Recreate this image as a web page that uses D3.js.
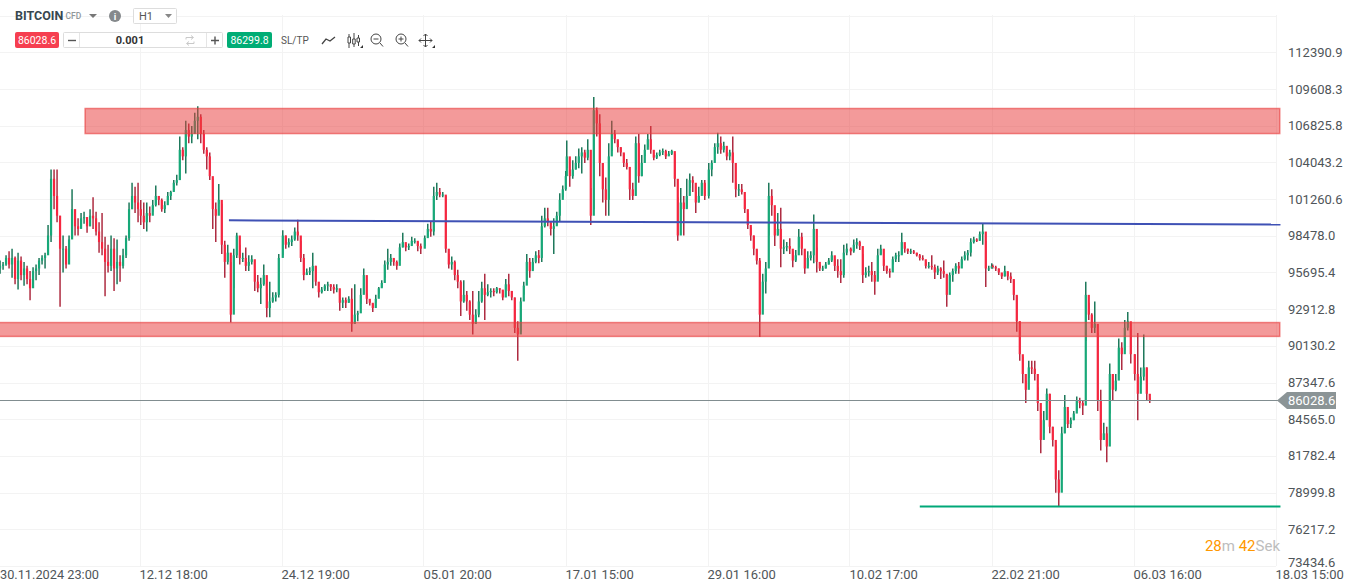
<!DOCTYPE html>
<html>
<head>
<meta charset="utf-8">
<script src="https://cdnjs.cloudflare.com/ajax/libs/d3/7.8.5/d3.min.js"></script>
<style>
html,body{margin:0;padding:0;background:#fff;overflow:hidden}
text{font-family:Roboto,sans-serif}
</style>
</head>
<body>
<svg id="chart" width="1347" height="585"></svg>
<script>
// prices in the bar arrays are in hundreds of USD: [high, low, close]
var bars_3011 = [[966,956,962],[965,959,963],[970,962,968],[973,960,963],[975,953,968],[969,948,952],[972,944,966],[969,951,955],[965,947,960],[962,948,952],[958,936,945],[961,950,958],[963,951,960],[968,955,966],[970,963,968],[972,960,970],[993,974,985],[1035,980,1028],[1035,1005,1015],[1035,995,1000],[1000,931,975],[985,957,975],[977,960,963],[985,968,982],[1020,987,1005],[1000,985,992],[998,985,990],[1002,994,998],[1003,994,999],[996,987,992],[1005,992,1000],[1014,990,998],[1003,985,988],[995,972,980],[1002,970,975],[984,939,965],[978,957,962],[985,958,975],[983,943,960],[982,948,965],[970,950,962],[975,960,970],[985,968,983],[1010,981,1005],[1025,1005,1015],[1022,1002,1010],[1025,995,1005]];
var bars_1212 = [[1012,993,1000],[1010,990,995],[1010,988,1002],[1007,995,1000],[1012,1003,1008],[1023,1007,1015],[1015,1008,1012],[1013,1003,1005],[1011,1002,1008],[1018,1012,1015],[1019,1012,1018],[1027,1019,1025],[1031,1023,1027],[1060,1027,1050],[1052,1042,1045],[1072,1032,1065],[1070,1055,1060],[1068,1055,1062],[1078,1063,1072],[1083,1058,1075],[1077,1055,1062],[1065,1047,1050],[1052,1035,1045],[1048,1027,1030],[1028,990,1005],[1010,980,1000],[1024,1009,1012],[1009,971,978],[981,953,965],[978,963,972],[965,919,925],[975,945,970],[987,968,985],[978,963,968],[972,965,968],[976,958,962],[970,958,965],[970,963,967],[957,943,950],[955,942,945],[953,933,948],[963,947,955],[941,923,930],[950,923,935],[942,934,938],[942,935,940],[971,938,968]];
var bars_2412 = [[989,970,985],[985,975,978],[983,976,980],[985,977,982],[991,981,988],[997,981,985],[981,965,968],[971,951,955],[960,955,957],[961,955,958],[972,945,962],[962,947,950],[945,938,942],[946,941,944],[948,943,947],[950,943,948],[948,943,946],[948,941,944],[948,942,945],[938,928,934],[938,930,936],[938,930,934],[939,934,937],[945,912,918],[948,918,925],[928,920,926],[945,933,940],[960,941,955],[941,933,937],[936,932,934],[933,927,930],[940,934,937],[946,941,945],[951,946,949],[966,953,963],[975,959,965],[971,962,968],[967,962,965],[966,959,962],[979,966,976],[987,976,980],[978,973,976],[979,974,977],[984,978,981],[983,979,981],[980,973,977],[979,971,975]];
var bars_0501 = [[985,977,983],[994,984,990],[996,984,988],[1022,985,1015],[1025,1012,1018],[1021,1014,1016],[1018,1014,1016],[1015,972,975],[971,960,963],[969,959,965],[966,951,955],[959,945,950],[951,924,935],[951,934,940],[943,928,935],[936,921,925],[943,910,918],[929,918,925],[943,923,935],[950,934,945],[956,921,940],[948,939,942],[945,938,943],[945,939,942],[946,941,945],[945,941,944],[943,936,938],[952,944,948],[956,939,943],[943,936,938],[938,911,915],[920,890,910],[938,912,935],[950,940,947],[971,951,965],[968,953,958],[968,959,965],[973,964,970],[974,964,968],[1000,965,992],[1006,991,998],[1006,992,995],[995,985,990],[998,971,992],[1003,993,1000],[1017,996,1012],[1023,1014,1020],[1034,1019,1030]];
var bars_1701 = [[1057,1036,1045],[1035,1022,1030],[1042,1028,1035],[1045,1035,1040],[1051,1036,1045],[1052,1032,1048],[1050,1040,1044],[1058,1042,1050],[1021,993,1000],[1090,1005,1080],[1082,1060,1070],[1077,1030,1040],[1040,1010,1020],[1029,1000,1012],[1055,1000,1045],[1072,1049,1062],[1065,1055,1058],[1057,1048,1052],[1052,1045,1048],[1047,1037,1040],[1043,1035,1037],[1027,1012,1020],[1025,1012,1015],[1060,1035,1055],[1062,1025,1030],[1046,1030,1040],[1054,1045,1050],[1062,1052,1058],[1068,1047,1050],[1046,1042,1044],[1048,1043,1046],[1050,1045,1048],[1051,1046,1049],[1050,1043,1045],[1049,1046,1047],[1050,1046,1049],[1047,1022,1028],[1014,981,985],[1021,996,1010],[1015,985,1005],[1028,1006,1015],[1032,1021,1027],[1030,1018,1025],[1018,1002,1010],[1022,1010,1015],[1027,1016,1025],[1027,1012,1015]];
var bars_2901 = [[1040,1013,1035],[1042,1030,1040],[1055,1047,1052],[1063,1047,1055],[1060,1047,1050],[1056,1048,1053],[1048,1042,1045],[1050,1042,1048],[1060,1025,1040],[1025,1014,1020],[1024,1015,1020],[1024,1016,1018],[1013,1002,1005],[1002,990,993],[991,981,985],[985,970,975],[974,963,966],[968,908,925],[956,941,950],[965,941,960],[1025,985,1015],[1020,1000,1008],[996,977,985],[1002,985,990],[1006,961,975],[982,971,976],[980,973,977],[983,971,975],[973,961,966],[974,965,970],[990,976,984],[987,970,975],[970,956,960],[973,962,968],[973,966,970],[1001,964,990],[976,957,965],[963,958,960],[962,958,960],[965,960,963],[968,963,966],[973,965,970],[967,958,962],[967,953,958],[967,949,955],[978,953,972],[979,970,975]];
var bars_1002 = [[976,970,973],[982,972,978],[983,975,980],[981,974,977],[971,949,955],[961,953,957],[962,954,958],[965,950,955],[958,940,950],[975,952,970],[978,971,975],[967,958,962],[962,956,958],[960,953,957],[969,963,967],[972,965,970],[973,965,970],[987,971,980],[977,972,975],[975,971,973],[975,971,973],[974,971,972],[972,969,970],[971,966,968],[970,966,967],[965,960,962],[965,960,962],[970,959,961],[963,952,957],[962,955,960],[961,952,958],[966,953,956],[955,931,940],[957,950,955],[960,950,958],[964,956,962],[965,956,960],[969,963,967],[973,966,970],[974,966,972],[983,969,980],[984,979,982],[983,980,981],[988,981,986],[994,978,988],[981,946,960],[962,958,960],[964,960,962]];
var bars_2202 = [[963,960,961],[962,958,960],[960,955,957],[956,952,954],[962,954,958],[957,951,954],[957,949,952],[951,936,940],[939,912,920],[920,890,895],[893,873,880],[875,858,868],[890,877,885],[890,880,884],[890,875,880],[870,852,858],[850,820,830],[852,835,845],[869,858,865],[865,835,840],[840,825,830],[826,790,800],[807,780,790],[840,800,835],[864,835,855],[852,839,842],[847,839,845],[852,845,850],[863,852,860],[862,854,858],[860,849,856],[950,905,940],[934,921,925],[926,911,915],[935,911,918],[911,852,860],[868,822,830],[843,830,835],[840,813,825],[888,850,880],[880,860,868],[880,867,875],[907,880,900],[904,883,895],[921,898,915],[927,913,920],[914,888,895]];
var bars_0603 = [[895,875,880],[911,845,865],[885,872,878],[910,875,885],[885,860,865],[862,858,860]];
var barSegments = [bars_3011, bars_1212, bars_2412, bars_0501, bars_1701, bars_2901, bars_1002, bars_2202, bars_0603];

var timeLabels = ['30.11.2024 23:00', '12.12 18:00', '24.12 19:00', '05.01 20:00', '17.01 15:00', '29.01 16:00', '10.02 17:00', '22.02 21:00', '06.03 16:00', '18.03 15:00'];
var priceTicks = [112390.9, 109608.3, 106825.8, 104043.2, 101260.6, 98478.0, 95695.4, 92912.8, 90130.2, 87347.6, 84565.0, 81782.4, 78999.8, 76217.2, 73434.6];
var resistanceZone = [108130, 106230];
var supportZone = [91900, 90850];
var blueLine = [{t: 1.63, p: 99650}, {t: 9.035, p: 99330}];
var greenLine = [{t: 6.495, p: 77950}, {t: 9.035, p: 77950}];
var zoneStarts = [0.617, -0.01];
var zoneEnd = 9.03;
var lastPrice = 86028.6;
var askPrice = 86299.8;

var svg = d3.select('#chart');

var x = d3.scaleLinear().domain([0, 9]).range([-2.5, 1275.5]);
var y = d3.scaleLinear().domain([112390.9, 78999.8]).range([52.3, 492.7]);

// grid
svg.selectAll('line.hgrid').data(priceTicks.concat([115173.5])).enter().append('line')
  .attr('x1', 0).attr('x2', 1276)
  .attr('y1', function(d) { return Math.round(y(d)) + 0.5; })
  .attr('y2', function(d) { return Math.round(y(d)) + 0.5; })
  .attr('stroke', '#f3f3f3');
svg.selectAll('line.vgrid').data(timeLabels).enter().append('line')
  .attr('x1', function(d, i) { return Math.round(x(i)) + 0.5; })
  .attr('x2', function(d, i) { return Math.round(x(i)) + 0.5; })
  .attr('y1', 15).attr('y2', 566)
  .attr('stroke', '#f3f3f3');

// candles, open is the previous close
var candles = [];
var prev = 960;
barSegments.forEach(function(seg, s) {
  seg.forEach(function(b, j) {
    candles.push({t: s + j * 3 / 142 + (s ? 0.009 : 0.018), high: b[0] * 100, low: b[1] * 100, close: b[2] * 100, open: prev * 100});
    prev = b[2];
  });
});
function bull(d) { return d.close >= d.open; }

svg.append('g').selectAll('line').data(candles).enter().append('line')
  .attr('x1', function(d) { return x(d.t); })
  .attr('x2', function(d) { return x(d.t); })
  .attr('y1', function(d) { return y(d.high); })
  .attr('y2', function(d) { return y(d.low); })
  .attr('stroke', function(d) { return bull(d) ? '#0d6f4f' : '#a81c33'; })
  .attr('stroke-width', 1.4);
svg.append('g').selectAll('rect').data(candles).enter().append('rect')
  .attr('x', function(d) { return x(d.t) - 1.1; })
  .attr('width', 2.2)
  .attr('y', function(d) { return y(Math.max(d.open, d.close)); })
  .attr('height', function(d) { return Math.max(1, Math.abs(y(d.open) - y(d.close))); })
  .attr('fill', function(d) { return bull(d) ? '#17a878' : '#f6263f'; });

// zones and drawn lines on top of the candles
[resistanceZone, supportZone].forEach(function(z, i) {
  svg.append('rect')
    .attr('x', x(zoneStarts[i]))
    .attr('width', x(zoneEnd) - x(zoneStarts[i]))
    .attr('y', y(z[0]))
    .attr('height', y(z[1]) - y(z[0]))
    .attr('fill', 'rgba(232,62,62,0.52)')
    .attr('stroke', 'rgba(232,62,62,0.62)')
    .attr('stroke-width', 1.5);
});
var lineGen = d3.line().x(function(d) { return x(d.t); }).y(function(d) { return y(d.p); });
svg.append('path').attr('d', lineGen(blueLine)).attr('fill', 'none').attr('stroke', '#3f51b5').attr('stroke-width', 2);
svg.append('path').attr('d', lineGen(greenLine)).attr('fill', 'none').attr('stroke', '#00a878').attr('stroke-width', 2);

// price line and tag
var tagY = Math.round(y(lastPrice)) + 0.5;
svg.append('line').attr('x1', 0).attr('x2', 1280).attr('y1', tagY).attr('y2', tagY).attr('stroke', '#818d90').attr('stroke-width', 1);
svg.append('path')
  .attr('d', 'M1277,' + tagY + 'L1287,' + (tagY - 8.5) + 'L1336,' + (tagY - 8.5) + 'L1336,' + (tagY + 8.5) + 'L1287,' + (tagY + 8.5) + 'Z')
  .attr('fill', '#8b9496');

// axis labels
svg.selectAll('text.price').data(priceTicks).enter().append('text')
  .attr('x', 1288)
  .attr('y', function(d) { return Math.min(y(d), 562) + 4.5; })
  .attr('font-size', 13).attr('fill', '#4f5559')
  .text(function(d) { return d.toFixed(1); });
svg.append('text').attr('x', 1288).attr('y', tagY + 4.5).attr('font-size', 13).attr('fill', '#fff').text(lastPrice.toFixed(1));
svg.selectAll('text.time').data(timeLabels).enter().append('text')
  .attr('x', function(d, i) { return i ? x(i) : 0; })
  .attr('y', 579)
  .attr('font-size', function(d, i) { return i ? 13 : 12.75; }).attr('fill', '#4f5559')
  .text(function(d) { return d; });

// countdown
var cd = svg.append('text').attr('x', 1280).attr('y', 551).attr('text-anchor', 'end').attr('font-size', 15);
cd.append('tspan').attr('fill', '#ff9800').text('28');
cd.append('tspan').attr('fill', '#bdbdbd').text('m ');
cd.append('tspan').attr('fill', '#ff9800').text('42');
cd.append('tspan').attr('fill', '#bdbdbd').text('Sek');

// toolbar
var bar = svg.append('g');
bar.append('text').attr('x', 15).attr('y', 20).attr('font-size', 12.5).attr('font-weight', 700).attr('fill', '#37474f').text('BITCOIN');
bar.append('text').attr('x', 65.5).attr('y', 19).attr('font-size', 8.5).attr('font-weight', 500).attr('fill', '#90979b').text('CFD');
bar.append('path').attr('d', 'M89,14L97,14L93,18Z').attr('fill', '#777');
bar.append('circle').attr('cx', 115).attr('cy', 16).attr('r', 6).attr('fill', '#85898c');
bar.append('text').attr('x', 115).attr('y', 19.5).attr('text-anchor', 'middle').attr('font-size', 9.5).attr('font-weight', 700).attr('fill', '#fff').text('i');
bar.append('rect').attr('x', 133.5).attr('y', 8.5).attr('width', 43).attr('height', 15).attr('rx', 1).attr('fill', '#fff').attr('stroke', '#ddd');
bar.append('text').attr('x', 139).attr('y', 20).attr('font-size', 11).attr('fill', '#555').text('H1');
bar.append('path').attr('d', 'M165,14L172,14L168.5,18Z').attr('fill', '#888');

bar.append('rect').attr('x', 15).attr('y', 32).attr('width', 44).attr('height', 16).attr('rx', 2).attr('fill', '#f63f50');
bar.append('text').attr('x', 37).attr('y', 44).attr('text-anchor', 'middle').attr('font-size', 10.5).attr('fill', '#fff').text(lastPrice.toFixed(1));
bar.append('rect').attr('x', 63.5).attr('y', 32.5).attr('width', 159).attr('height', 15).attr('rx', 1).attr('fill', '#fff').attr('stroke', '#ddd');
bar.append('line').attr('x1', 79.5).attr('x2', 79.5).attr('y1', 33).attr('y2', 47).attr('stroke', '#e5e5e5');
bar.append('line').attr('x1', 206.5).attr('x2', 206.5).attr('y1', 33).attr('y2', 47).attr('stroke', '#e5e5e5');
bar.append('path').attr('d', 'M68,40.5L76,40.5').attr('stroke', '#555').attr('stroke-width', 1.4);
bar.append('path').attr('d', 'M211,40.5L219,40.5M215,36.5L215,44.5').attr('stroke', '#555').attr('stroke-width', 1.4);
bar.append('text').attr('x', 130).attr('y', 44).attr('text-anchor', 'middle').attr('font-size', 11).attr('font-weight', 700).attr('fill', '#333').text('0.001');
bar.append('path').attr('d', 'M186,39.5L186,37.5L193,37.5M191,35.5L193.5,37.5L191,39.5M194,41.5L194,43.5L187,43.5M189,41.5L186.5,43.5L189,45.5')
  .attr('fill', 'none').attr('stroke', '#c9c9c9').attr('stroke-width', 1);
bar.append('rect').attr('x', 227).attr('y', 32).attr('width', 45).attr('height', 16).attr('rx', 2).attr('fill', '#00ad75');
bar.append('text').attr('x', 249.5).attr('y', 44).attr('text-anchor', 'middle').attr('font-size', 10.5).attr('fill', '#fff').text(askPrice.toFixed(1));
bar.append('text').attr('x', 281).attr('y', 44).attr('font-size', 10).attr('fill', '#555').text('SL/TP');

// toolbar icons
var ic = bar.append('g').attr('fill', 'none').attr('stroke', '#444').attr('stroke-width', 1);
ic.append('path').attr('d', 'M322,44L326,39L330,41L335,37').attr('stroke-width', 1.3);
ic.append('path').attr('d', 'M349,34V48M354,33V47M358.500,35V46').attr('stroke-width', 1);
ic.append('path').attr('d', 'M348,37h2.500v6h-2.500zM352.700,39h2.500v5h-2.500zM357,38h2.500v4h-2.500z').attr('fill', '#fff');
ic.append('circle').attr('cx', 376).attr('cy', 39).attr('r', 5);
ic.append('path').attr('d', 'M373.500,39h5M380,43L383,46.500');
ic.append('circle').attr('cx', 401).attr('cy', 39).attr('r', 5);
ic.append('path').attr('d', 'M398.500,39h5M401,36.500v5M405,43L408,46.500');
ic.append('path').attr('d', 'M419,40.500h13M425.500,34v13M423.500,36L425.500,34L427.500,36M423.500,45L425.500,47L427.500,45M421,38.500L419,40.500L421,42.500M430,38.500L432,40.500L430,42.500');
bar.append('path').attr('d', 'M360,48h3v-3zM432,48h3v-3z').attr('fill', '#333');
</script>
</body>
</html>
